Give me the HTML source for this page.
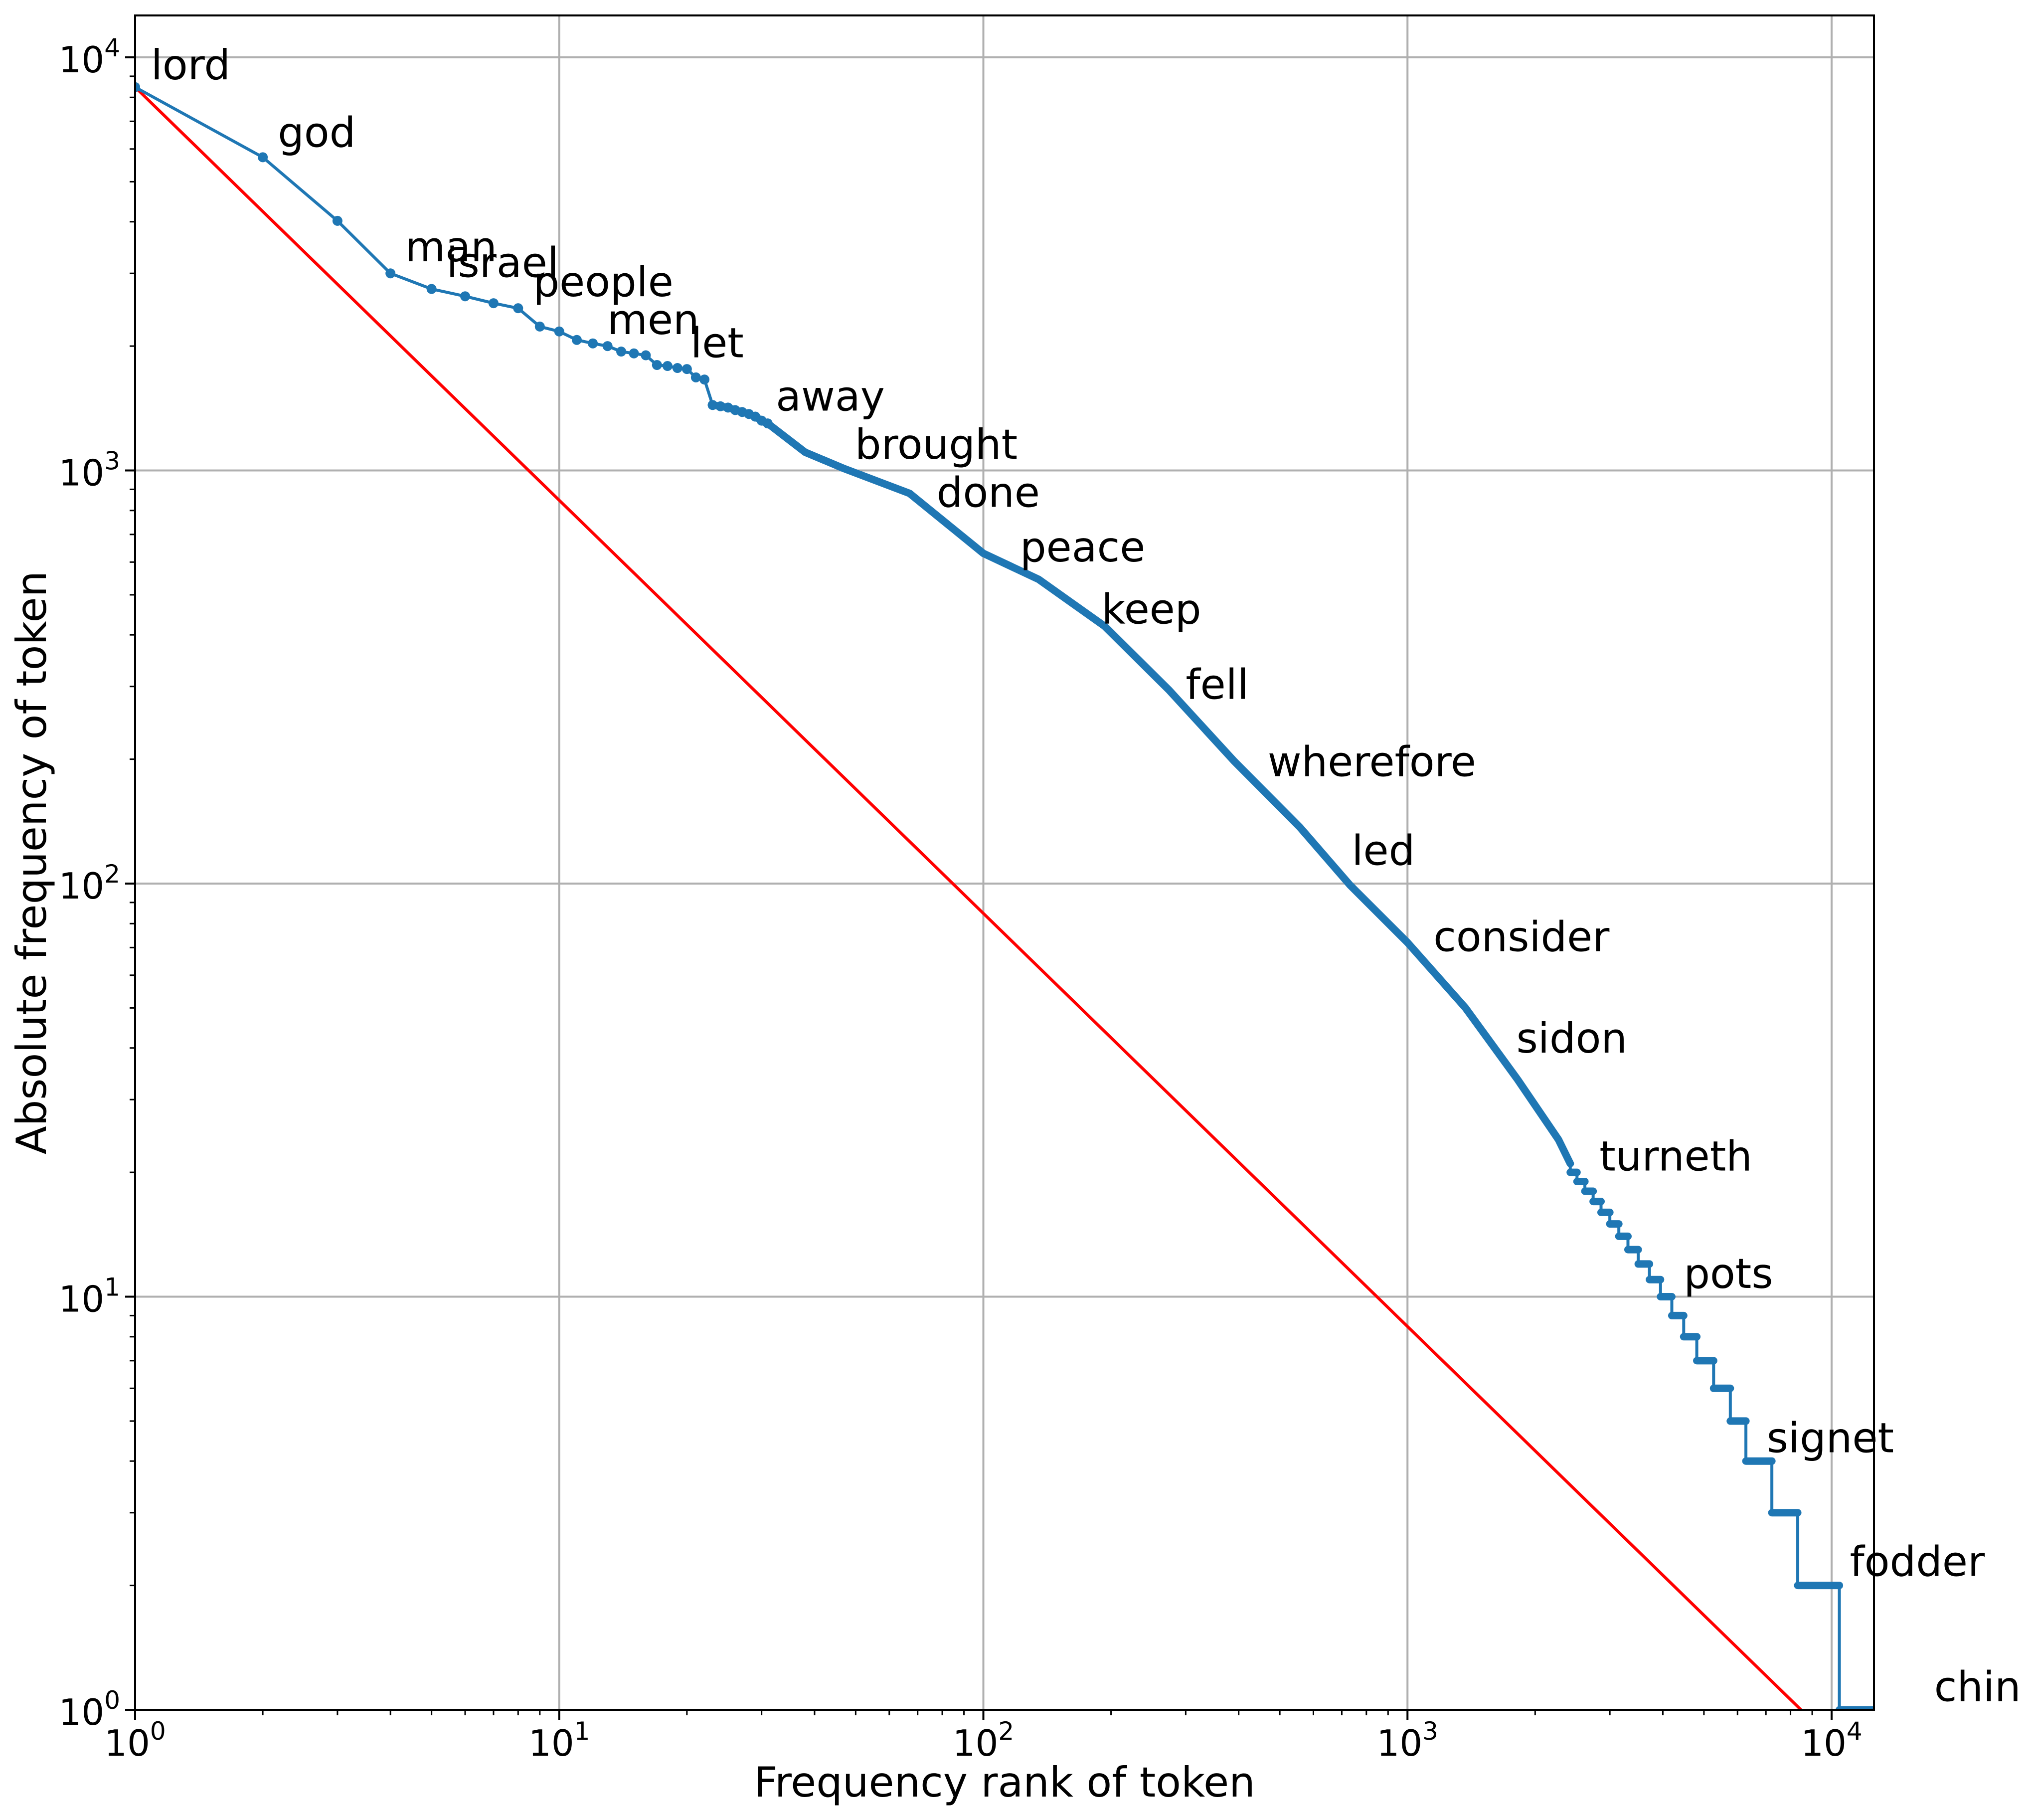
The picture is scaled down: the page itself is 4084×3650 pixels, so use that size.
<!DOCTYPE html>
<html><head><meta charset="utf-8"><style>
html,body{margin:0;padding:0;background:#fff;}
svg{display:block;font-family:"DejaVu Sans","Liberation Sans",sans-serif;}
</style></head><body>
<svg id="chart" xmlns="http://www.w3.org/2000/svg" width="4084" height="3650" viewBox="0 0 4084 3650">
<rect x="0" y="0" width="4084" height="3650" fill="#fff"/>
<g id="grid"></g>
<g id="ticks"></g>
<g id="series"></g>
<g id="labels"></g>
<text x="2015" y="3603" font-size="83" text-anchor="middle">Frequency rank of token</text>
<text x="0" y="0" font-size="83" text-anchor="middle" transform="translate(92,1730) rotate(-90)">Absolute frequency of token</text>
</svg>
<script>
// ---- data ----
const headRanks = [1,2,3,4,5,6,7,8,9,10,11,12,13,14,15,16,17,18,19,20,21,22,23,24,25,26,27,28,29,30,31];
const headFreqs = [8470,5730,4020,3000,2750,2640,2540,2470,2230,2170,2070,2030,2000,1940,1920,1900,1800,1790,1770,1760,1680,1660,1440,1430,1420,1400,1385,1370,1350,1320,1300];
const midRanks = [38,47,67,100,135,193,274,390,557,733,1000,1370,1820,2270,2420];
const midFreqs = [1107,1010,880,630,545,420,294,198,137,99,72,50,33.5,24,21];
const stepFreqs = [20,19,18,17,16,15,14,13,12,11,10,9,8,7,6,5,4,3,2,1];
const stepStarts = [2420,2510,2620,2740,2860,3000,3150,3310,3500,3720,3950,4200,4480,4810,5270,5770,6280,7230,8320,10430];
const stepEnds = [2510,2620,2740,2860,3000,3150,3310,3500,3720,3950,4200,4480,4810,5270,5770,6280,7230,8320,10430,12590];
const zipfTop = [8470];
const labelWords = ["lord","god","man","israel","people","men","let","away","brought","done","peace","keep","fell","wherefore","led","consider","sidon","turneth","pots","signet","fodder","chin"];
const labelRanks = [1.09,2.17,4.33,5.42,8.68,12.98,20.4,32.4,49.8,77.6,122,190,300,468,739,1151,1806,2835,4480,7030,11040,17450];
const labelFreqs = [8850,6070,3210,2940,2640,2140,1880,1396,1067,816,602,426,280,182,111,68.6,39,20.2,10.5,4.2,2.11,1.05];
const tickExps = [0,1,2,3,4];

// ---- axes ----
const L=271,R=3759,T=31,B=3429,DX=850.75,DY=828.5;
const X=r=>L+DX*Math.log10(r);
const Y=f=>B-DY*Math.log10(f);
const NS="http://www.w3.org/2000/svg";
function mk(tag,attrs,parent){const e=document.createElementNS(NS,tag);for(const k in attrs)e.setAttribute(k,attrs[k]);parent.appendChild(e);return e;}
const grid=document.getElementById('grid'),ticks=document.getElementById('ticks'),series=document.getElementById('series'),labels=document.getElementById('labels');

tickExps.forEach(e=>{
  const x=X(Math.pow(10,e)),y=Y(Math.pow(10,e));
  const gx=mk('line',{x1:x,x2:x,y1:T,y2:B,stroke:'#b0b0b0','stroke-width':4},grid);
  
  
  const gy=mk('line',{x1:L,x2:R,y1:y,y2:y,stroke:'#b0b0b0','stroke-width':4},grid);
  
  
  const tx=mk('line',{x1:x,x2:x,y1:B,y2:B+20,stroke:'#000','stroke-width':4},ticks);
  
  
  const ty=mk('line',{x1:L-20,x2:L,y1:y,y2:y,stroke:'#000','stroke-width':4},ticks);
  
  
  const lx=mk('text',{x:x,y:B+92,'font-size':72,'text-anchor':'middle'},ticks);
  lx.innerHTML='10<tspan font-size="50" dy="-32">'+e+'</tspan>';
  
  
  const ly=mk('text',{x:L-30,y:y+30,'font-size':72,'text-anchor':'end'},ticks);
  ly.innerHTML='10<tspan font-size="50" dy="-32">'+e+'</tspan>';
  
  
  for(let m=2;m<=9;m++){
    const v=m*Math.pow(10,e);
    const mx=X(v);
    if(mx<=R){const t=mk('line',{x1:mx,x2:mx,y1:B,y2:B+11,stroke:'#000','stroke-width':3},ticks);
      
      }
    const my=Y(v);
    if(my>=T){const t=mk('line',{x1:L-11,x2:L,y1:my,y2:my,stroke:'#000','stroke-width':3},ticks);
      
      }
  }
});

const defs=mk('defs',{},series);
const cp=mk('clipPath',{id:'plotclip'},defs);
mk('rect',{x:L,y:T,width:R-L,height:B-T},cp);
const sg=mk('g',{'clip-path':'url(#plotclip)'},series);

const rEnd=zipfTop[0];
const red=mk('line',{x1:X(1),y1:Y(zipfTop[0]),x2:X(rEnd),y2:Y(zipfTop[0]/rEnd),stroke:'#ff0000','stroke-width':6},sg);



let pts=[];
headRanks.forEach((r,i)=>pts.push([X(r),Y(headFreqs[i])]));
midRanks.forEach((r,i)=>pts.push([X(r),Y(midFreqs[i])]));
stepFreqs.forEach((f,i)=>{pts.push([X(stepStarts[i]),Y(f)]);pts.push([X(stepEnds[i]),Y(f)]);});
const blue=mk('polyline',{points:pts.map(p=>p.join(',')).join(' '),fill:'none',stroke:'#1f77b4','stroke-width':6,'stroke-linejoin':'round'},sg);


let dense=[];
headRanks.forEach((r,i)=>{if(r>=23)dense.push([X(r),Y(headFreqs[i])]);});
midRanks.forEach((r,i)=>dense.push([X(r),Y(midFreqs[i])]));
const band=mk('polyline',{points:dense.map(p=>p.join(',')).join(' '),fill:'none',stroke:'#1f77b4','stroke-width':15,'stroke-linecap':'round','stroke-linejoin':'round'},sg);


stepFreqs.forEach((f,i)=>{
  const s=mk('line',{x1:X(stepStarts[i]),x2:X(stepEnds[i]),y1:Y(f),y2:Y(f),stroke:'#1f77b4','stroke-width':15,'stroke-linecap':'round'},sg);
  
  
});
headRanks.forEach((r,i)=>{
  const c=mk('circle',{cx:X(r),cy:Y(headFreqs[i]),r:10,fill:'#1f77b4'},sg);
  
  
});

const fr=mk('rect',{x:L,y:T,width:R-L,height:B-T,fill:'none',stroke:'#000','stroke-width':4},series);



labelWords.forEach((w,i)=>{
  const t=mk('text',{x:X(labelRanks[i]),y:Y(labelFreqs[i]),'font-size':83},labels);
  t.textContent=w;
  
  
});
</script>
</body></html>
